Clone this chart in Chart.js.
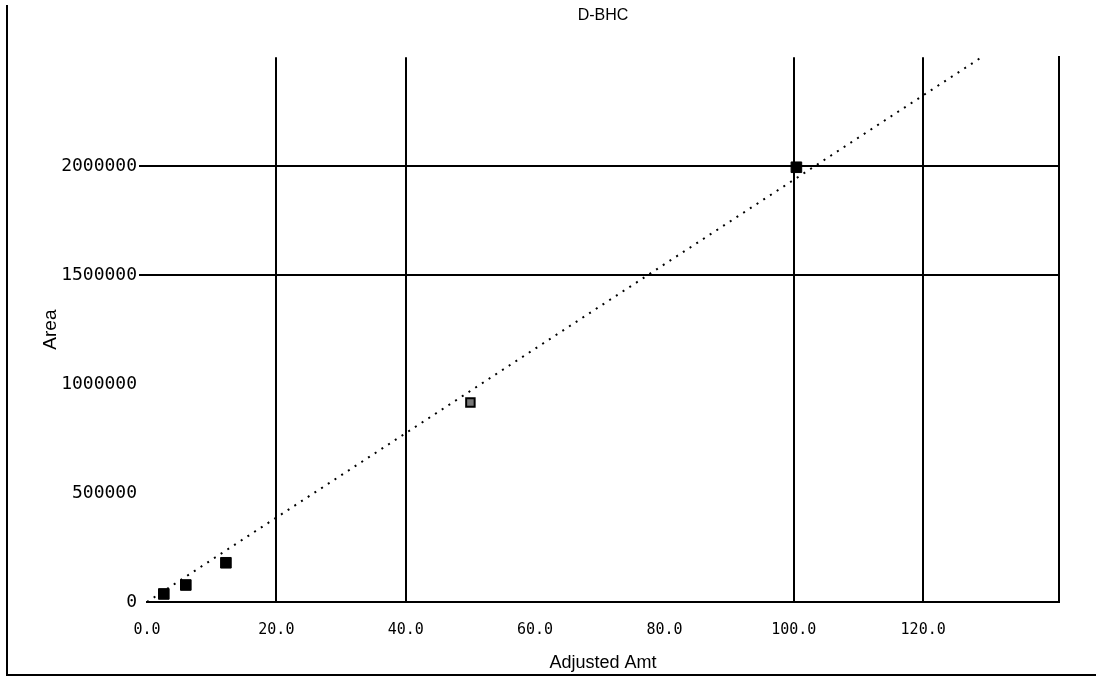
<!DOCTYPE html>
<html>
<head>
<meta charset="utf-8">
<script src="https://cdn.jsdelivr.net/npm/chart.js@4/dist/chart.umd.min.js"></script>
<style>
  html, body { margin: 0; padding: 0; background: #fff; }
  #wrap { position: relative; width: 1096px; height: 679px; overflow: hidden; }
  #frame { position: absolute; left: 6px; top: 5px; width: 1090px; height: 671px;
           border-left: 2px solid #000; border-bottom: 2px solid #000; box-sizing: border-box; pointer-events: none; }
  #holder { position: absolute; left: 0; top: 0; width: 1096px; height: 679px; }
</style>
</head>
<body>
<div id="wrap">
  <div id="holder"><canvas id="c"></canvas></div>
  <div id="frame"></div>
</div>
<script>
// ---- data ----
const chartTitle = 'D-BHC';
const xAxisTitle = 'Adjusted Amt';
const yAxisTitle = 'Area';
const pointX = [2.6, 6.0, 12.2, 50.0, 100.4];
const pointY = [37000, 78000, 180000, 915000, 1995000];
const fitX = [0, 129.3];
const fitY = [0, 2505000];
const xTicks = [0, 20, 40, 60, 80, 100, 120];
const xGridValues = [20, 40, 100, 120];
const yTicks = [0, 500000, 1000000, 1500000, 2000000];
const yGridValues = [1500000, 2000000];

new Chart(document.getElementById('c'), {
  type: 'scatter',
  data: {
    datasets: [
      {
        label: 'fit',
        type: 'line',
        data: fitX.map((x, i) => ({ x: x, y: fitY[i] })),
        borderColor: '#000',
        borderWidth: 2,
        borderDash: [2, 6],
        pointRadius: 0,
        fill: false,
        order: 2
      },
      {
        label: 'points',
        data: pointX.map((x, i) => ({ x: x, y: pointY[i] })),
        pointStyle: 'rect',
        pointRadius: [7.5, 7.5, 7.5, 6, 7.5],
        pointBackgroundColor: ['#000', '#000', '#000', '#777', '#000'],
        pointBorderColor: '#000',
        pointBorderWidth: [1, 1, 1, 2, 1],
        order: 1
      }
    ]
  },
  options: {
    responsive: true,
    maintainAspectRatio: false,
    animation: false,
    events: [],
    layout: { padding: { left: 0, right: 37, top: 0, bottom: 0 } },
    plugins: {
      legend: { display: false },
      tooltip: { enabled: false },
      title: {
        display: true,
        text: chartTitle,
        fullSize: false,
        color: '#000',
        font: { family: 'Liberation Sans', size: 16, weight: 'normal' },
        padding: { top: 6, bottom: 32 }
      }
    },
    scales: {
      x: {
        type: 'linear',
        min: 0,
        max: 141,
        afterFit: s => { s.height = 77; },
        afterBuildTicks: s => { s.ticks = xTicks.map(v => ({ value: v })); },
        ticks: {
          color: '#000',
          font: { family: 'DejaVu Sans Mono', size: 15 },
          padding: 19,
          maxRotation: 0,
          autoSkip: false,
          callback: v => Number(v).toFixed(1)
        },
        grid: {
          drawTicks: false,
          lineWidth: 2,
          color: ctx => (ctx.tick && xGridValues.includes(ctx.tick.value)) ? '#000' : 'rgba(0,0,0,0)'
        },
        border: { display: true, color: '#000', width: 2 },
        title: {
          display: true,
          text: xAxisTitle,
          color: '#000',
          font: { family: 'Liberation Sans', size: 18 },
          padding: { top: 0, bottom: 5 }
        }
      },
      y: {
        type: 'linear',
        position: 'left',
        min: 0,
        max: 2500000,
        afterFit: s => { s.width = 147; },
        afterBuildTicks: s => { s.ticks = yTicks.map(v => ({ value: v })); },
        ticks: {
          color: '#000',
          font: { family: 'DejaVu Sans Mono', size: 18 },
          padding: 2,
          autoSkip: false,
          callback: v => String(v)
        },
        grid: {
          drawTicks: true,
          tickLength: 8,
          lineWidth: 2,
          color: ctx => (ctx.tick && yGridValues.includes(ctx.tick.value)) ? '#000' : 'rgba(0,0,0,0)'
        },
        border: { display: false },
        title: {
          display: true,
          text: yAxisTitle,
          color: '#000',
          font: { family: 'Liberation Sans', size: 19 },
          padding: { top: 39, bottom: 0 }
        }
      },
      y2: {
        type: 'linear',
        position: 'right',
        min: 0,
        max: 2500000,
        afterFit: s => { s.width = 0; },
        ticks: { display: false },
        grid: { display: false, drawTicks: false },
        border: { display: true, color: '#000', width: 2 }
      }
    }
  }
});
</script>
</body>
</html>
